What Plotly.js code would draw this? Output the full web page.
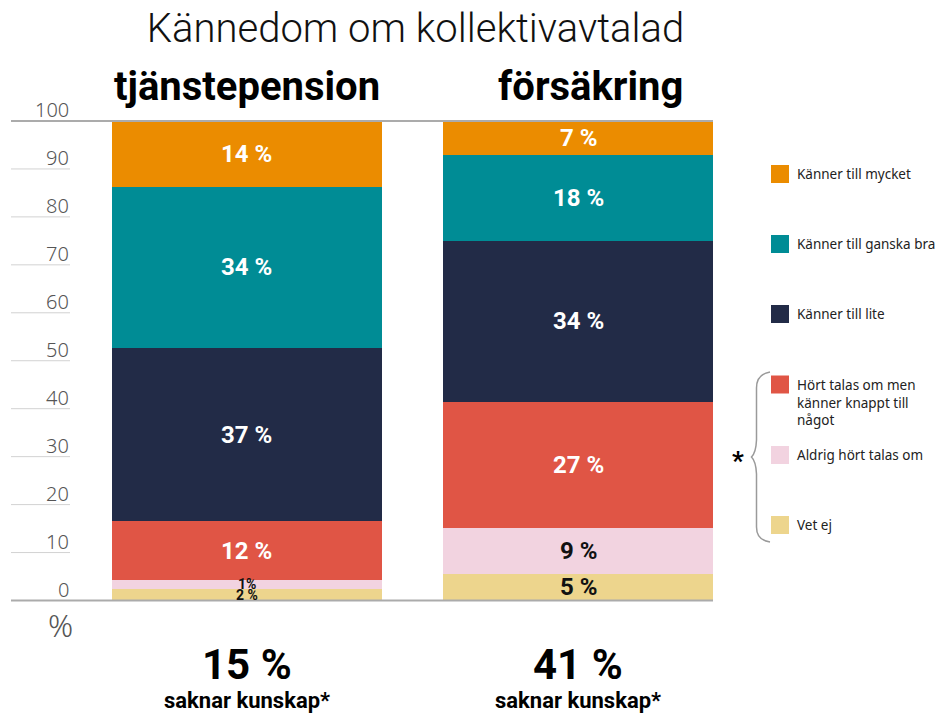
<!DOCTYPE html>
<html>
<head>
<meta charset="utf-8">
<script src="https://cdn.plot.ly/plotly-3.0.1.min.js"></script>
<style>html,body{margin:0;padding:0;background:#fff;}#chart{width:939px;height:713px;}</style>
</head>
<body>
<div id="chart"></div>
<script>
// ---- data (bottom segment first) ----
const categories = ["tjänstepension", "försäkring"];
const vetEj   = [2.4, 5.5];
const aldrig  = [1.9, 9.7];
const hort    = [12.2, 26.2];
const lite    = [36.2, 33.6];
const ganska  = [33.5, 17.9];
const mycket  = [13.8, 7.1];

const lblVetEj  = ["2 %", "5 %"];
const lblAldrig = ["1%", "9 %"];
const lblHort   = ["12 %", "27 %"];
const lblLite   = ["37 %", "34 %"];
const lblGanska = ["34 %", "18 %"];
const lblMycket = ["14 %", "7 %"];

const saknarTotal = ["15 %", "41 %"];
const saknarText = "saknar kunskap*";

const seriesNames = ["Vet ej", "Aldrig hört talas om", "Hört talas om men<br>känner knappt till<br>något", "Känner till lite", "Känner till ganska bra", "Känner till mycket"];
const yTicks = [0, 10, 20, 30, 40, 50, 60, 70, 80, 90, 100];

const chartTitle = "Kännedom om kollektivavtalad";

// ---- styling ----
const colors = ["#EDD58D", "#F2D3E0", "#E05545", "#222B47", "#008C95", "#EB8C00"];
const textColors = ["#111111", "#111111", "#ffffff", "#ffffff", "#ffffff", "#ffffff"];
const W = 939, H = 713;
const P = px => px / W;
const Q = py => 1 - py / H;

const values = [vetEj, aldrig, hort, lite, ganska, mycket];
const labels = [lblVetEj, lblAldrig, lblHort, lblLite, lblGanska, lblMycket];

const traces = values.map((v, i) => ({
  type: "bar",
  x: categories,
  y: v,
  name: seriesNames[i],
  width: 0.815,
  marker: {color: colors[i], line: {width: 0}},
  hoverinfo: "skip"
}));

const annotations = [];
const shapes = [];

// bar labels at segment midpoints
categories.forEach((c, ci) => {
  let cum = 0;
  values.forEach((v, si) => {
    const mid = cum + v[ci] / 2;
    cum += v[ci];
    const small = v[ci] < 4;
    annotations.push({
      x: c, y: mid, xref: "x", yref: "y", text: labels[si][ci], showarrow: false,
      xanchor: "center", yanchor: "middle",
      font: {family: "Roboto, 'Noto Sans', sans-serif", size: small ? 14 : 24, color: textColors[si], weight: 700}
    });
  });
});

// y ticks (labels above short lines)
yTicks.forEach(t => {
  annotations.push({
    x: P(71), xref: "paper", y: t, yref: "y", text: String(t), showarrow: false,
    xanchor: "right", yanchor: "bottom", yshift: -4,
    font: {family: "'Noto Sans', sans-serif", size: 20, color: "#555555", weight: 300}
  });
  const edge = (t === 0 || t === 100);
  shapes.push({
    type: "line", xref: "paper", yref: "y",
    x0: P(11), x1: edge ? P(713) : P(70), y0: t, y1: t,
    line: {color: edge ? "#ababab" : "#d2d2d2", width: edge ? 2 : 1},
    layer: "above"
  });
});
annotations.push({
  x: P(60), xref: "paper", y: Q(625), yref: "paper", text: "%", showarrow: false,
  xanchor: "center", yanchor: "middle",
  font: {family: "'Noto Sans', sans-serif", size: 31, color: "#555555", weight: 300}
});

// column headings
const headX = [246.7, 590];
categories.forEach((c, ci) => {
  annotations.push({
    x: P(headX[ci]), xref: "paper", y: Q(87), yref: "paper", text: c, showarrow: false,
    xanchor: "center", yanchor: "middle",
    font: {family: "Roboto, sans-serif", size: 40, color: "#000000", weight: 700}
  });
  annotations.push({
    x: c, xref: "x", y: Q(664), yref: "paper", text: saknarTotal[ci], showarrow: false,
    xanchor: "center", yanchor: "middle",
    font: {family: "Roboto, sans-serif", size: 42, color: "#000000", weight: 700}
  });
  annotations.push({
    x: c, xref: "x", y: Q(700), yref: "paper", text: saknarText, showarrow: false,
    xanchor: "center", yanchor: "middle",
    font: {family: "Roboto, sans-serif", size: 22, color: "#000000", weight: 700}
  });
});

// custom legend
const legendY = [525, 455, 384.5, 314, 244, 174];
seriesNames.forEach((n, i) => {
  shapes.push({
    type: "rect", xref: "paper", yref: "paper",
    x0: P(771), x1: P(789), y0: Q(legendY[i] - 9), y1: Q(legendY[i] + 9),
    fillcolor: colors[i], line: {width: 0}
  });
  const multi = n.indexOf("<br>") >= 0;
  annotations.push({
    x: P(795), xref: "paper", y: multi ? Q(legendY[i] - 11) : Q(legendY[i]), yref: "paper",
    text: n, showarrow: false, align: "left",
    xanchor: "left", yanchor: multi ? "top" : "middle",
    font: {family: "'Noto Sans', sans-serif", size: 13.5, color: "#222222"}
  });
});

// brace for the "saknar kunskap" group
const bp = [[770,372],[758,374],[756.5,388],[756.5,440],[756,452],[751.5,457],[756,462],[756.5,474],[756.5,527],[758,540],[770,542]];
const path = "M " + P(bp[0][0]) + "," + Q(bp[0][1]) +
  " C " + P(bp[1][0]) + "," + Q(bp[1][1]) + " " + P(bp[2][0]) + "," + Q(bp[2][1] - 6) + " " + P(bp[2][0]) + "," + Q(bp[2][1]) +
  " L " + P(bp[3][0]) + "," + Q(bp[3][1]) +
  " C " + P(bp[4][0]) + "," + Q(bp[4][1]) + " " + P(bp[5][0]+1) + "," + Q(bp[5][1]-1) + " " + P(bp[5][0]) + "," + Q(bp[5][1]) +
  " C " + P(bp[5][0]+1) + "," + Q(bp[5][1]+1) + " " + P(bp[6][0]) + "," + Q(bp[6][1]) + " " + P(bp[7][0]) + "," + Q(bp[7][1]) +
  " L " + P(bp[8][0]) + "," + Q(bp[8][1]) +
  " C " + P(bp[8][0]) + "," + Q(bp[8][1] + 6) + " " + P(bp[9][0]) + "," + Q(bp[9][1]) + " " + P(bp[10][0]) + "," + Q(bp[10][1]);
shapes.push({type: "path", xref: "paper", yref: "paper", path: path, line: {color: "#9a9a9a", width: 1.5}});
annotations.push({
  x: P(738), xref: "paper", y: Q(461), yref: "paper", text: "*", showarrow: false,
  xanchor: "center", yanchor: "middle",
  font: {family: "Roboto, sans-serif", size: 26, color: "#000000", weight: 700}
});

const layout = {
  width: W, height: H,
  margin: {l: 0, r: 0, t: 0, b: 0},
  paper_bgcolor: "#ffffff", plot_bgcolor: "#ffffff",
  barmode: "stack",
  bargap: 0,
  showlegend: false,
  title: {
    text: chartTitle, x: P(415.5), xanchor: "center", xref: "container",
    y: Q(28), yanchor: "middle", yref: "container",
    font: {family: "Roboto, sans-serif", size: 40, color: "#111111", weight: 300}
  },
  xaxis: {type: "category", range: [-0.7446, 2.0896], visible: false, fixedrange: true},
  yaxis: {range: [-23.46, 125.23], visible: false, fixedrange: true},
  annotations: annotations,
  shapes: shapes
};

Plotly.newPlot("chart", traces, layout, {displayModeBar: false, staticPlot: true});
</script>
</body>
</html>
